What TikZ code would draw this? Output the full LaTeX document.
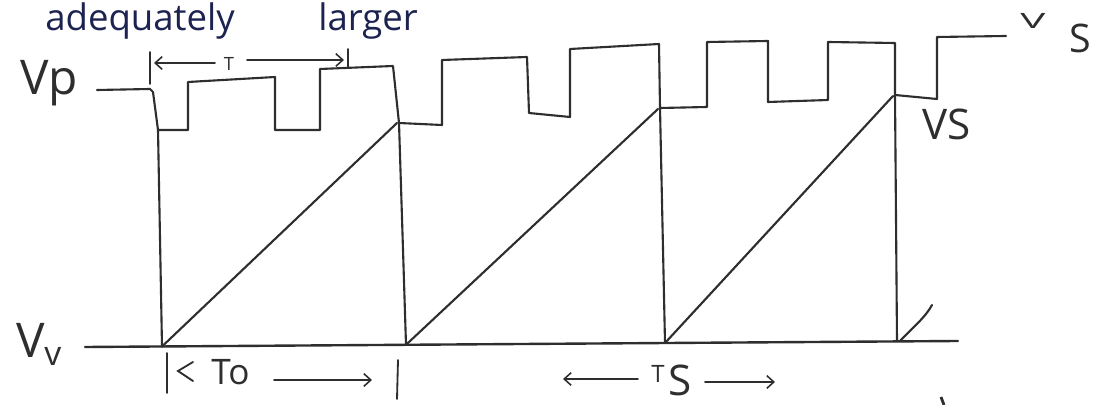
\documentclass[tikz,border=0pt]{standalone}
\usepackage{fontspec}
\setmainfont{Open Sans}
\usetikzlibrary{arrows.meta}
\definecolor{ink}{HTML}{2E2E2E}
\definecolor{pen}{HTML}{1C2350}
\newcommand{\fs}[1]{\fontsize{#1}{#1}\selectfont}
\begin{document}
\begin{tikzpicture}[x=0.025cm,y=-0.025cm,
  wave/.style={draw=ink,line width=1.5pt,line join=round,line cap=round},
  lbl/.style={inner sep=0pt,text=ink},
  dimarrow/.style={draw=ink,line width=1.1pt,line cap=round,-{Straight Barb[length=5pt,width=9pt]}},
  tickbar/.style={draw=ink,line width=1.3pt,line cap=round}]
\useasboundingbox (0,0) rectangle (1104,405);
\fill[white] (0,0) rectangle (1104,405);

% handwritten text at the top
\node[lbl,text=pen,anchor=base west,font=\fs{26}] (hw1) at (45,31) {adequately};
\node[lbl,text=pen,anchor=base west,font=\fs{26}] (hw2) at (318,31) {larger};

% named points
\coordinate (b1) at (162,346.5);
\coordinate (b2) at (406,344.8);
\coordinate (b3) at (665,343);
\coordinate (b4) at (897,341.4);
\coordinate (t1) at (158,130);
\coordinate (t2) at (399,123);
\coordinate (t3) at (660,108);
\coordinate (t4) at (895,95);

% Vs square wave with Vp level
\draw[wave] (97,90) -- (150,89) -- (153,92) -- (t1) -- (188,130) -- (188,82) -- (275,77)
  -- (275,130) -- (320,130) -- (320,69) -- (393,66) -- (t2) -- (442,125) -- (442,60)
  -- (527,57) -- (529,113) -- (570,117) -- (570,49) -- (659,44) -- (t3) -- (707,107)
  -- (707,42) -- (768,41) -- (768,102) -- (828,100) -- (828,42) -- (895,43) -- (t4)
  -- (937,99) -- (937,37) -- (1006,36);

% baseline Vv
\coordinate (bl0) at (85,347);
\coordinate (bl1) at (958,341);
\draw[wave,line width=1.7pt] (bl0) -- (bl1);

% vertical time lines
\draw[wave] (t1) -- (b1);
\draw[wave] (t2) -- (b2);
\draw[wave] (t3) -- (b3);
\draw[wave] (t4) -- (b4);

% ramps
\draw[wave] (b1) -- (397,123);
\draw[wave] (b2) -- (658,109);
\draw[wave] (b3) -- (893,96);
\draw[wave] (900,341) .. controls (912,328) and (925,318) .. (932,305);

% T dimension
\draw[tickbar] (150,52) -- (150,84);
\draw[dimarrow] (215,63) -- (154,63);
\node[lbl,font=\fs{13}] (tlab) at (229,64) {T};
\draw[dimarrow] (247,60) -- (344,60);
\draw[tickbar] (348,49) -- (348,67);

% To dimension
\draw[tickbar] (167,353) -- (167,393);
\draw[tickbar] (193,362) -- (178,371) -- (193,381);
\node[lbl,anchor=base west,font=\fs{25}] (tolab) at (211,385) {To};
\draw[dimarrow] (274,380) -- (372,380);
\draw[tickbar] (398,360) -- (397,399);

% Ts dimension
\draw[dimarrow] (638,379) -- (563,379);
\node[lbl,font=\fs{17}] (tslabT) at (658,374) {T};
\node[lbl,anchor=base west,font=\fs{30}] (tslabS) at (668,396) {S};
\draw[dimarrow] (705,382) -- (775,382);

% labels
\node[lbl,anchor=base west,font=\fs{34}] (vp) at (20,95) {Vp};
\node[lbl,anchor=base west,font=\fs{34}] (vvV) at (16,358) {V};
\node[lbl,anchor=base west,font=\fs{24}] (vvv) at (44,366) {v};
\node[lbl,anchor=base west,font=\fs{30}] (vs2) at (922,140) {VS};
\node[lbl,anchor=base west,font=\fs{30}] (vs1V) at (1020,29) {\scalebox{1}[0.5]{V}};
\node[lbl,anchor=base west,font=\fs{28}] (vs1S) at (1069,53) {S};

% stray mark of the next line, cut at the bottom
\draw[draw=ink,line width=2pt] (941,397) -- (944,405);
\end{tikzpicture}
\end{document}
